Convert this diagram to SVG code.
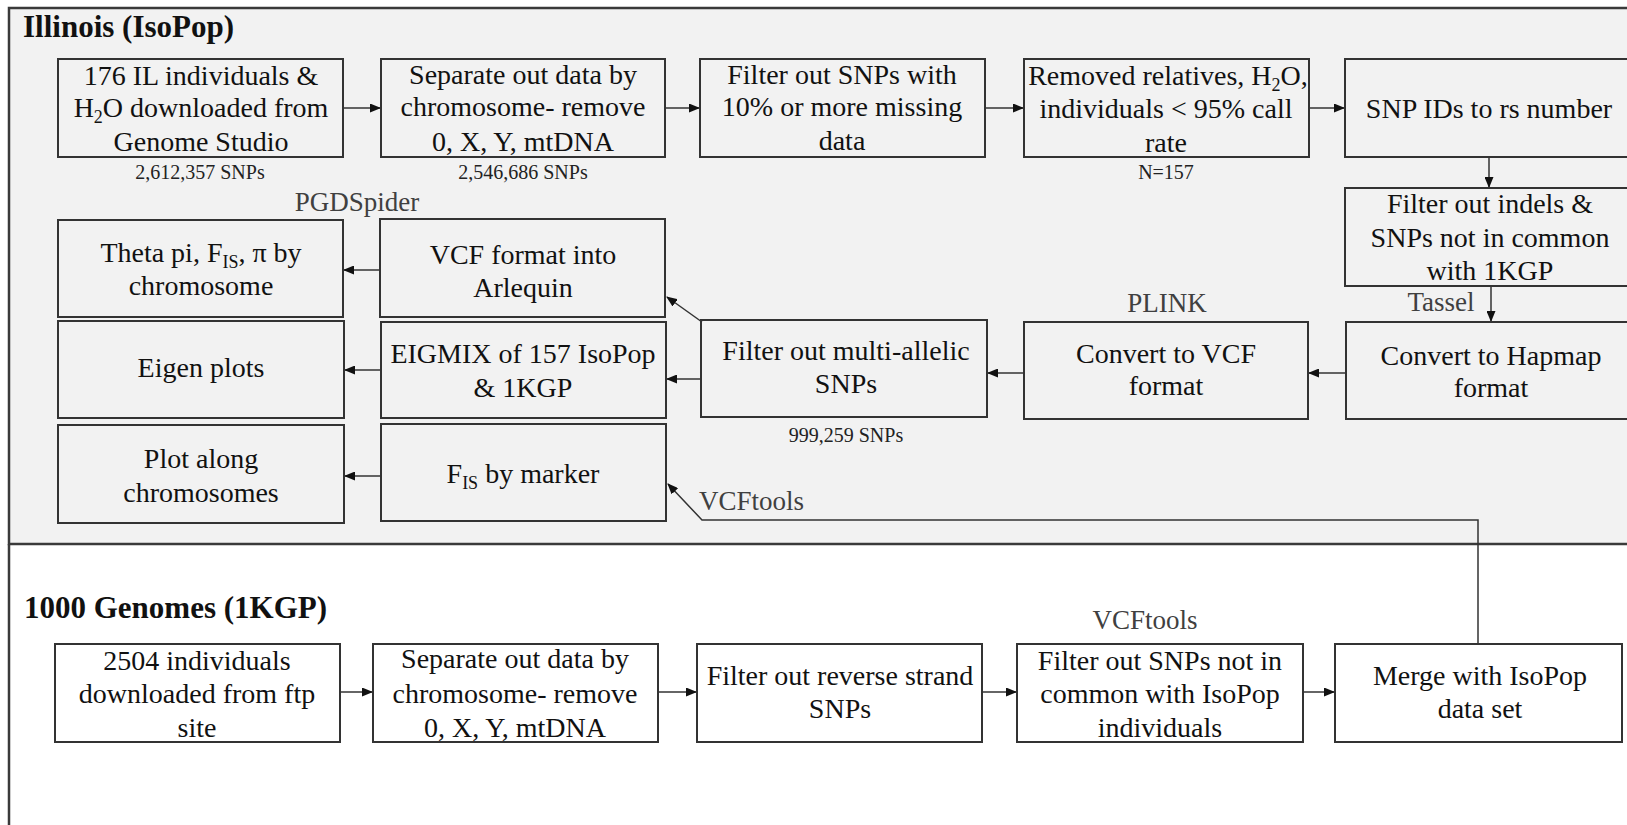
<svg xmlns="http://www.w3.org/2000/svg" width="1627" height="825" viewBox="0 0 1627 825">
<style>
.bg{fill:#f2f2f2;stroke:#3a3a3a;stroke-width:2.5}
.box{fill:none;stroke:#333;stroke-width:2}
.t{font-family:"Liberation Serif","Times New Roman",serif;font-size:28px;text-anchor:middle;fill:#111}
.s{font-family:"Liberation Serif","Times New Roman",serif;font-size:20px;text-anchor:middle;fill:#222}
.lbl{font-family:"Liberation Serif","Times New Roman",serif;font-size:27px;text-anchor:middle;fill:#404040}
.title{font-family:"Liberation Serif","Times New Roman",serif;font-size:31px;font-weight:bold;fill:#111}
.c{fill:none;stroke:#333;stroke-width:1.5}
</style>
<defs>
<marker id="ah" markerUnits="userSpaceOnUse" markerWidth="11" markerHeight="9" refX="10" refY="4.5" orient="auto">
<path d="M0,0 L11,4.5 L0,9 z" fill="#111"/>
</marker>
</defs>
<g id="sections">
<rect class="bg" x="9" y="8" width="1650" height="536"/>
<line x1="9" y1="544" x2="9" y2="830" stroke="#3a3a3a" stroke-width="2.5"/>
<text class="title" x="23" y="37">Illinois (IsoPop)</text>
<text class="title" x="24" y="618">1000 Genomes (1KGP)</text>
</g>
<g id="connectors">
<line class="c" x1="343" y1="108" x2="380" y2="108" marker-end="url(#ah)"/>
<line class="c" x1="665" y1="108" x2="699" y2="108" marker-end="url(#ah)"/>
<line class="c" x1="985" y1="108" x2="1023" y2="108" marker-end="url(#ah)"/>
<line class="c" x1="1309" y1="108" x2="1344" y2="108" marker-end="url(#ah)"/>
<line class="c" x1="1489" y1="157" x2="1489" y2="187" marker-end="url(#ah)"/>
<line class="c" x1="1491" y1="286" x2="1491" y2="321" marker-end="url(#ah)"/>
<line class="c" x1="1346" y1="373" x2="1309" y2="373" marker-end="url(#ah)"/>
<line class="c" x1="1024" y1="373" x2="988" y2="373" marker-end="url(#ah)"/>
<line class="c" x1="701" y1="379" x2="667" y2="379" marker-end="url(#ah)"/>
<line class="c" x1="702" y1="322" x2="667" y2="297" marker-end="url(#ah)"/>
<polyline class="c" points="1478,644 1478,520 702,520 668,484" marker-end="url(#ah)"/>
<line class="c" x1="380" y1="270" x2="344" y2="270" marker-end="url(#ah)"/>
<line class="c" x1="381" y1="370" x2="345" y2="370" marker-end="url(#ah)"/>
<line class="c" x1="381" y1="476" x2="345" y2="476" marker-end="url(#ah)"/>
<line class="c" x1="340" y1="692" x2="372" y2="692" marker-end="url(#ah)"/>
<line class="c" x1="658" y1="692" x2="696" y2="692" marker-end="url(#ah)"/>
<line class="c" x1="982" y1="692" x2="1016" y2="692" marker-end="url(#ah)"/>
<line class="c" x1="1303" y1="692" x2="1334" y2="692" marker-end="url(#ah)"/>
</g>
<g id="labels">
<text class="lbl" x="357" y="211">PGDSpider</text>
<text class="lbl" x="1167" y="312">PLINK</text>
<text class="lbl" x="1441" y="311">Tassel</text>
<text class="lbl" x="699" y="510" style="text-anchor:start">VCFtools</text>
<text class="lbl" x="1145" y="629">VCFtools</text>
<text class="s" x="200" y="179">2,612,357 SNPs</text>
<text class="s" x="523" y="179">2,546,686 SNPs</text>
<text class="s" x="1166" y="179">N=157</text>
<text class="s" x="846" y="442">999,259 SNPs</text>
</g>
<g id="n1"><rect class="box" x="58" y="59" width="285" height="98"/>
<text class="t" x="201" y="85">176 IL individuals &amp;</text>
<text class="t" x="201" y="117">H<tspan font-size="18" dy="6">2</tspan><tspan dy="-6">O downloaded from</tspan></text>
<text class="t" x="201" y="151">Genome Studio</text></g>
<g id="n2"><rect class="box" x="381" y="59" width="284" height="98"/>
<text class="t" x="523" y="84">Separate out data by</text>
<text class="t" x="523" y="116">chromosome- remove</text>
<text class="t" x="523" y="151">0, X, Y, mtDNA</text></g>
<g id="n3"><rect class="box" x="700" y="59" width="285" height="98"/>
<text class="t" x="842" y="84">Filter out SNPs with</text>
<text class="t" x="842" y="116">10% or more missing</text>
<text class="t" x="842" y="150">data</text></g>
<g id="n4"><rect class="box" x="1024" y="59" width="285" height="98"/>
<text class="t" x="1168" y="85">Removed relatives, H<tspan font-size="18" dy="6">2</tspan><tspan dy="-6">O,</tspan></text>
<text class="t" x="1166" y="118">individuals &lt; 95% call</text>
<text class="t" x="1166" y="152">rate</text></g>
<g id="n5"><rect class="box" x="1345" y="59" width="290" height="98"/>
<text class="t" x="1489" y="118">SNP IDs to rs number</text></g>
<g id="n6"><rect class="box" x="1345" y="188" width="290" height="98"/>
<text class="t" x="1490" y="213">Filter out indels &amp;</text>
<text class="t" x="1490" y="247">SNPs not in common</text>
<text class="t" x="1490" y="280">with 1KGP</text></g>
<g id="n7"><rect class="box" x="1346" y="322" width="290" height="97"/>
<text class="t" x="1491" y="365">Convert to Hapmap</text>
<text class="t" x="1491" y="397">format</text></g>
<g id="n8"><rect class="box" x="1024" y="322" width="284" height="97"/>
<text class="t" x="1166" y="363">Convert to VCF</text>
<text class="t" x="1166" y="395">format</text></g>
<g id="n9"><rect class="box" x="701" y="320" width="286" height="97"/>
<text class="t" x="846" y="360">Filter out multi-allelic</text>
<text class="t" x="846" y="393">SNPs</text></g>
<g id="n10"><rect class="box" x="380" y="219" width="285" height="98"/>
<text class="t" x="523" y="264">VCF format into</text>
<text class="t" x="523" y="297">Arlequin</text></g>
<g id="n11"><rect class="box" x="381" y="322" width="285" height="96"/>
<text class="t" x="523" y="363">EIGMIX of 157 IsoPop</text>
<text class="t" x="523" y="397">&amp; 1KGP</text></g>
<g id="n12"><rect class="box" x="381" y="424" width="285" height="97"/>
<text class="t" x="523" y="483">F<tspan font-size="18" dy="6">IS</tspan><tspan dy="-6"> by marker</tspan></text></g>
<g id="n13"><rect class="box" x="58" y="220" width="285" height="97"/>
<text class="t" x="201" y="262">Theta pi, F<tspan font-size="18" dy="6">IS</tspan><tspan dy="-6">, π by</tspan></text>
<text class="t" x="201" y="295">chromosome</text></g>
<g id="n14"><rect class="box" x="58" y="321" width="286" height="97"/>
<text class="t" x="201" y="377">Eigen plots</text></g>
<g id="n15"><rect class="box" x="58" y="425" width="286" height="98"/>
<text class="t" x="201" y="468">Plot along</text>
<text class="t" x="201" y="502">chromosomes</text></g>
<g id="m1"><rect class="box" x="55" y="644" width="285" height="98"/>
<text class="t" x="197" y="670">2504 individuals</text>
<text class="t" x="197" y="703">downloaded from ftp</text>
<text class="t" x="197" y="737">site</text></g>
<g id="m2"><rect class="box" x="373" y="644" width="285" height="98"/>
<text class="t" x="515" y="668">Separate out data by</text>
<text class="t" x="515" y="703">chromosome- remove</text>
<text class="t" x="515" y="737">0, X, Y, mtDNA</text></g>
<g id="m3"><rect class="box" x="697" y="644" width="285" height="98"/>
<text class="t" x="840" y="685">Filter out reverse strand</text>
<text class="t" x="840" y="718">SNPs</text></g>
<g id="m4"><rect class="box" x="1017" y="644" width="286" height="98"/>
<text class="t" x="1160" y="670">Filter out SNPs not in</text>
<text class="t" x="1160" y="703">common with IsoPop</text>
<text class="t" x="1160" y="737">individuals</text></g>
<g id="m5"><rect class="box" x="1335" y="644" width="287" height="98"/>
<text class="t" x="1480" y="685">Merge with IsoPop</text>
<text class="t" x="1480" y="718">data set</text></g>
</svg>
